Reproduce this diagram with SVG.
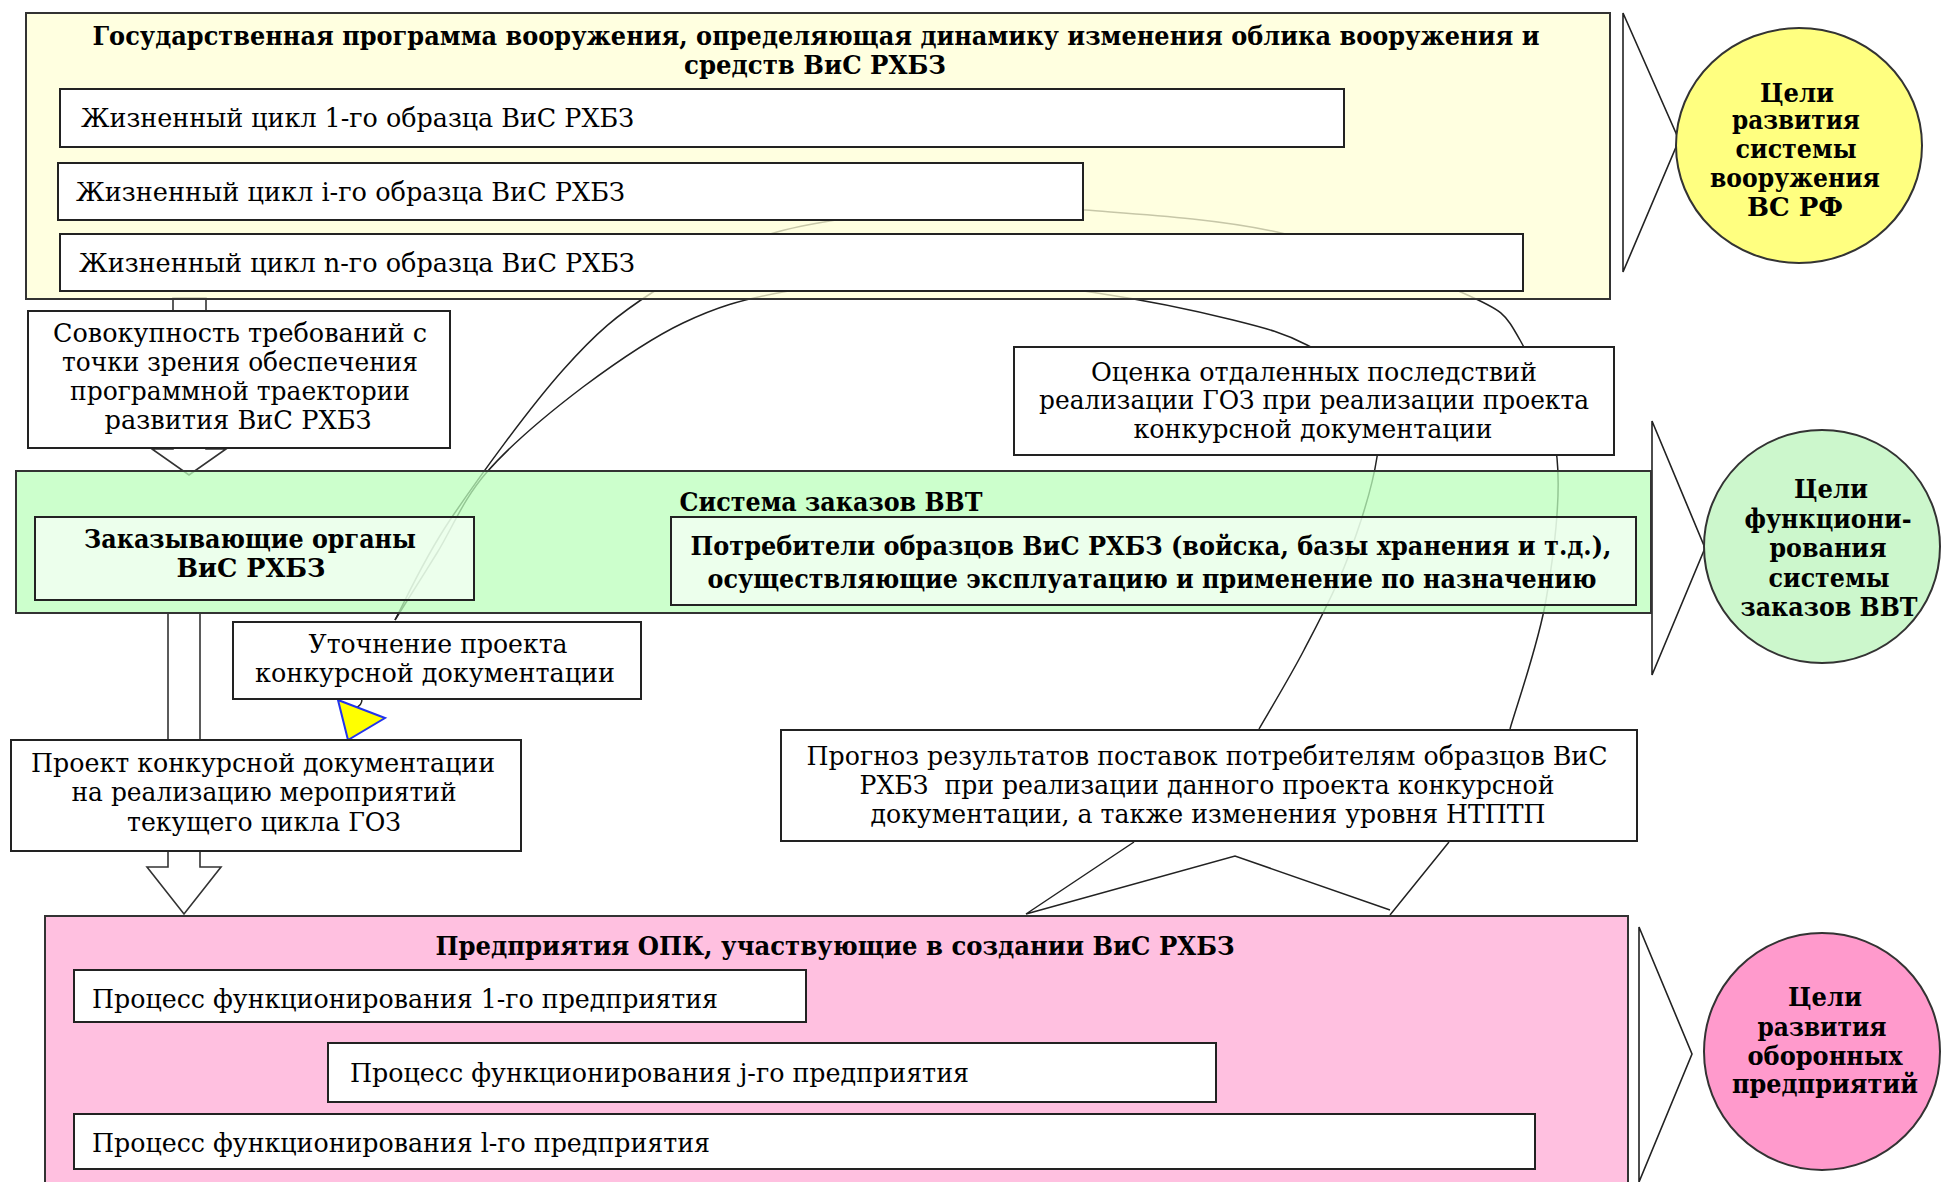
<svg xmlns="http://www.w3.org/2000/svg" width="1941" height="1182" viewBox="0 0 1941 1182">
<style>
.t{font-family:"DejaVu Serif","Liberation Serif",serif;font-size:26px;fill:#000}
.b{font-weight:bold}
.m{text-anchor:middle}
.wb{fill:#fff;stroke:#222;stroke-width:2}
.gb{fill:#fff;fill-opacity:.62;stroke:#222;stroke-width:2}
.ln{fill:none;stroke:#222;stroke-width:1.5}
.blk{fill:#fff;stroke:#333;stroke-width:1.6}
.tri{fill:none;stroke:#222;stroke-width:1.6}
.ell{stroke:#333;stroke-width:2}
</style>
<rect width="1941" height="1182" fill="#fff"/>

<g id="connectors">
  <path class="ln" d="M395 620 C404.2 603.3 422 561.7 450 520 C478 478.3 529.2 408 563 370 C596.8 332 617.3 315 653 292 C688.7 269 725.8 246.2 777 232 C828.2 217.8 908.7 210.7 960 207 C1011.3 203.3 1032.2 205.8 1085 210 C1137.8 214.2 1214 218.2 1277 232 C1340 245.8 1422.5 275 1463 293 C1503.5 311 1504.3 312.5 1520 340 C1535.7 367.5 1552.7 414.7 1557 458 C1561.3 501.3 1553.8 554.8 1546 600 C1538.2 645.2 1516 707.5 1510 729"/>
  <path class="ln" d="M395 620 C402 608.8 421.7 577.7 437 553 C452.3 528.3 462.7 499.7 487 472 C511.3 444.3 550.3 411.8 583 387 C616.3 362.2 649.7 338.8 683 323 C716.3 307.2 740.2 299.8 783 292 C825.8 284.2 887.7 275.8 940 276 C992.3 276.2 1048.2 285.7 1097 293 C1145.8 300.3 1198 311.3 1233 320 C1268 328.7 1283.8 333 1307 345 C1330.2 357 1360.3 373.3 1372 392 C1383.7 410.7 1381.2 429 1377 457 C1372.8 485 1359.2 527.8 1347 560 C1334.8 592.2 1318.7 621.8 1304 650 C1289.3 678.2 1266.5 715.8 1259 729"/>
  <polygon class="blk" points="173,298 206,298 206,449 226,449 189,475 152,449 173,449"/>
  <polygon class="blk" points="168,613 200,613 200,867 221,867 184,914 147,867 168,867"/>
  <path class="ln" d="M1134 842 L1026 914 L1235 856 L1390 910 M1449 842 L1390 915"/>
  <path class="ln" d="M362 699 Q362 706 355 708"/>
  <polygon points="338,700 385,718 348,740" fill="#ffff00" stroke="#2233ee" stroke-width="2"/>
  <polygon class="tri" points="1623,13 1679,140 1623,272"/>
  <polygon class="tri" points="1652,421 1705,548 1652,675"/>
  <polygon class="tri" points="1639,927 1692,1054 1639,1182"/>
</g>

<g id="gp-container">
  <rect x="26" y="13" width="1584" height="286" fill="#ffffd5" fill-opacity=".75" stroke="#333" stroke-width="2"/>
  <text class="t b m" x="816" y="45" textLength="1447" lengthAdjust="spacingAndGlyphs">Государственная программа вооружения, определяющая динамику изменения облика вооружения и</text>
  <text class="t b m" x="815" y="74" textLength="262" lengthAdjust="spacingAndGlyphs">средств ВиС РХБЗ</text>
</g>
<g id="lc1">
  <rect class="wb" x="60" y="89" width="1284" height="58"/>
  <text class="t" x="81" y="127" textLength="553" lengthAdjust="spacingAndGlyphs">Жизненный цикл 1-го образца ВиС РХБЗ</text>
</g>
<g id="lci">
  <rect class="wb" x="58" y="163" width="1025" height="57"/>
  <text class="t" x="76" y="201" textLength="549" lengthAdjust="spacingAndGlyphs">Жизненный цикл i-го образца ВиС РХБЗ</text>
</g>
<g id="lcn">
  <rect class="wb" x="60" y="234" width="1463" height="57"/>
  <text class="t" x="79" y="272" textLength="556" lengthAdjust="spacingAndGlyphs">Жизненный цикл n-го образца ВиС РХБЗ</text>
</g>

<g id="requirements">
  <rect class="wb" x="28" y="311" width="422" height="137"/>
  <text class="t m" x="240" y="342" textLength="374" lengthAdjust="spacingAndGlyphs">Совокупность требований с</text>
  <text class="t m" x="240" y="371" textLength="356" lengthAdjust="spacingAndGlyphs">точки зрения обеспечения</text>
  <text class="t m" x="240" y="400" textLength="340" lengthAdjust="spacingAndGlyphs">программной траектории</text>
  <text class="t m" x="238" y="429" textLength="267" lengthAdjust="spacingAndGlyphs">развития ВиС РХБЗ</text>
</g>

<g id="assessment">
  <rect class="wb" x="1014" y="347" width="600" height="108"/>
  <text class="t m" x="1314" y="381" textLength="446" lengthAdjust="spacingAndGlyphs">Оценка отдаленных последствий</text>
  <text class="t m" x="1314" y="409" textLength="550" lengthAdjust="spacingAndGlyphs">реализации ГОЗ при реализации проекта</text>
  <text class="t m" x="1313" y="438" textLength="359" lengthAdjust="spacingAndGlyphs">конкурсной документации</text>
</g>

<g id="order-system">
  <rect x="16" y="471" width="1635" height="142" fill="#bbffbb" fill-opacity=".75" stroke="#333" stroke-width="2"/>
  <text class="t b m" x="831" y="511" textLength="303" lengthAdjust="spacingAndGlyphs">Система заказов ВВТ</text>
</g>
<g id="customers">
  <rect class="gb" x="35" y="517" width="439" height="83"/>
  <text class="t b m" x="250" y="548" textLength="332" lengthAdjust="spacingAndGlyphs">Заказывающие органы</text>
  <text class="t b m" x="251" y="577" textLength="149" lengthAdjust="spacingAndGlyphs">ВиС РХБЗ</text>
</g>
<g id="consumers">
  <rect class="gb" x="671" y="517" width="965" height="88"/>
  <text class="t b m" x="1151" y="555" textLength="921" lengthAdjust="spacingAndGlyphs">Потребители образцов ВиС РХБЗ (войска, базы хранения и т.д.),</text>
  <text class="t b m" x="1152" y="588" textLength="889" lengthAdjust="spacingAndGlyphs">осуществляющие эксплуатацию и применение по назначению</text>
</g>

<g id="refinement">
  <rect class="wb" x="233" y="622" width="408" height="77"/>
  <text class="t m" x="438" y="653" textLength="259" lengthAdjust="spacingAndGlyphs">Уточнение проекта</text>
  <text class="t m" x="435" y="682" textLength="360" lengthAdjust="spacingAndGlyphs">конкурсной документации</text>
</g>

<g id="draft">
  <rect class="wb" x="11" y="740" width="510" height="111"/>
  <text class="t m" x="263" y="772" textLength="464" lengthAdjust="spacingAndGlyphs">Проект конкурсной документации</text>
  <text class="t m" x="264" y="801" textLength="385" lengthAdjust="spacingAndGlyphs">на реализацию мероприятий</text>
  <text class="t m" x="264" y="831" textLength="274" lengthAdjust="spacingAndGlyphs">текущего цикла ГОЗ</text>
</g>

<g id="forecast">
  <rect class="wb" x="781" y="730" width="856" height="111"/>
  <text class="t m" x="1207" y="765" textLength="801" lengthAdjust="spacingAndGlyphs">Прогноз результатов поставок потребителям образцов ВиС</text>
  <text class="t m" x="1207" y="794" textLength="695" lengthAdjust="spacingAndGlyphs" xml:space="preserve">РХБЗ  при реализации данного проекта конкурсной</text>
  <text class="t m" x="1208" y="823" textLength="675" lengthAdjust="spacingAndGlyphs">документации, а также изменения уровня НТПТП</text>
</g>

<g id="enterprises">
  <rect x="45" y="916" width="1583" height="280" fill="#ffabd6" fill-opacity=".75" stroke="#333" stroke-width="2"/>
  <text class="t b m" x="835" y="955" textLength="799" lengthAdjust="spacingAndGlyphs">Предприятия ОПК, участвующие в создании ВиС РХБЗ</text>
</g>
<g id="proc1">
  <rect class="wb" x="74" y="970" width="732" height="52"/>
  <text class="t" x="92" y="1008" textLength="626" lengthAdjust="spacingAndGlyphs">Процесс функционирования 1-го предприятия</text>
</g>
<g id="procj">
  <rect class="wb" x="328" y="1043" width="888" height="59"/>
  <text class="t" x="350" y="1082" textLength="619" lengthAdjust="spacingAndGlyphs">Процесс функционирования j-го предприятия</text>
</g>
<g id="procl">
  <rect class="wb" x="74" y="1114" width="1461" height="55"/>
  <text class="t" x="92" y="1152" textLength="618" lengthAdjust="spacingAndGlyphs">Процесс функционирования l-го предприятия</text>
</g>

<g id="goal-armament">
  <ellipse class="ell" cx="1799" cy="145.5" rx="123" ry="117.5" fill="#ffff80"/>
  <text class="t b m" x="1797" y="102" textLength="74" lengthAdjust="spacingAndGlyphs">Цели</text>
  <text class="t b m" x="1796" y="129" textLength="128" lengthAdjust="spacingAndGlyphs">развития</text>
  <text class="t b m" x="1796" y="158" textLength="121" lengthAdjust="spacingAndGlyphs">системы</text>
  <text class="t b m" x="1795" y="187" textLength="170" lengthAdjust="spacingAndGlyphs">вооружения</text>
  <text class="t b m" x="1795" y="216" textLength="96" lengthAdjust="spacingAndGlyphs">ВС РФ</text>
</g>
<g id="goal-orders">
  <ellipse class="ell" cx="1822" cy="546.5" rx="118" ry="116.5" fill="#ccf7cc"/>
  <text class="t b m" x="1831" y="498" textLength="74" lengthAdjust="spacingAndGlyphs">Цели</text>
  <text class="t b m" x="1828" y="528" textLength="167" lengthAdjust="spacingAndGlyphs">функциони-</text>
  <text class="t b m" x="1828" y="557" textLength="117" lengthAdjust="spacingAndGlyphs">рования</text>
  <text class="t b m" x="1829" y="587" textLength="121" lengthAdjust="spacingAndGlyphs">системы</text>
  <text class="t b m" x="1829" y="616" textLength="177" lengthAdjust="spacingAndGlyphs">заказов ВВТ</text>
</g>
<g id="goal-enterprises">
  <ellipse class="ell" cx="1822" cy="1051.5" rx="118" ry="118.5" fill="#ff9acc"/>
  <text class="t b m" x="1825" y="1006" textLength="74" lengthAdjust="spacingAndGlyphs">Цели</text>
  <text class="t b m" x="1822" y="1036" textLength="129" lengthAdjust="spacingAndGlyphs">развития</text>
  <text class="t b m" x="1825" y="1065" textLength="155" lengthAdjust="spacingAndGlyphs">оборонных</text>
  <text class="t b m" x="1825" y="1093" textLength="186" lengthAdjust="spacingAndGlyphs">предприятий</text>
</g>
</svg>
